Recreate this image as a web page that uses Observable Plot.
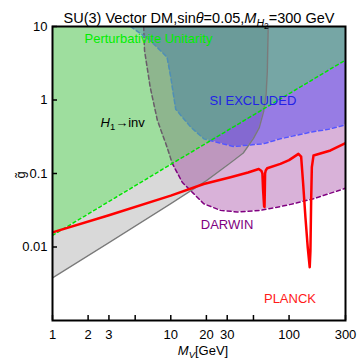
<!DOCTYPE html>
<html><head><meta charset="utf-8">
<script src="https://cdn.jsdelivr.net/npm/d3@7"></script>
<script src="https://cdn.jsdelivr.net/npm/@observablehq/plot@0.6"></script>
<style>body{margin:0;background:#fff} svg{display:block}</style>
</head><body><div id="chart"></div>
<script>
// ---- tick values / labels ----
const xTicks = [1, 2, 3, 5, 10, 20, 30, 50, 100, 300];
const xTickLabels = ["1", "2", "3", "5", "10", "20", "30", "50", "100", "300"];
const yTicks = [10, 1, 0.1, 0.01];
const yTickLabels = ["10", "1", "0.1", "0.01"];

// ---- perturbative unitarity boundary ----
const unitX = [1, 10.3, 300];
const unitY = [0.0144, 0.137, 3.5];

// ---- H1 -> invisible boundary ----
const h1X = [1, 3, 10, 20, 32, 41, 50, 56, 61, 64, 65.5, 66.6];
const h1Y = [0.0038, 0.0115, 0.039, 0.08, 0.14, 0.19, 0.3, 0.42, 0.7, 1.2, 2.5, 10];

// ---- DARWIN boundary ----
const darwinX = [5.9, 6.0, 6.7, 7.7, 9.3, 10.3, 12.5, 15.6, 19, 26.3, 36.5, 57, 96, 161, 300];
const darwinY = [10, 4.7, 1.49, 0.53, 0.228, 0.137, 0.076, 0.0532, 0.0388, 0.0315, 0.030, 0.0315, 0.037, 0.0454, 0.063];

// ---- SI excluded boundary ----
const siX = [4.57, 6.7, 9.3, 10, 10.3, 11, 14.7, 19, 34, 61, 84.5, 152, 224, 300];
const siY = [10, 6.45, 3.82, 2.04, 1.49, 0.75, 0.43, 0.297, 0.233, 0.254, 0.297, 0.365, 0.405, 0.46];

// ---- PLANCK relic line ----
const planckX = [1, 3, 10, 19, 32, 45, 55.4, 58.5, 59.5, 60.3, 61.5, 62.0, 62.4, 62.7, 63.5, 65.3, 84.5, 100, 120, 126.5, 131.6, 137.6, 143.9, 149.5, 151.6, 153.7, 155.8, 161, 224, 300];
const planckY = [0.0158, 0.027, 0.05, 0.072, 0.089, 0.103, 0.115, 0.108, 0.1, 0.06, 0.036, 0.035, 0.06, 0.1, 0.11, 0.118, 0.135, 0.152, 0.185, 0.17, 0.072, 0.025, 0.0098, 0.0053, 0.0089, 0.043, 0.122, 0.176, 0.206, 0.258];

// ---- texts ----
const titleText = "SU(3) Vector DM,sinθ=0.05,MH2=300 GeV";
const xLabelText = "MV[GeV]";
const yLabelText = "g\u0303";
const labelsStart = [
  {text: "Perturbativite Unitarity", x: 1.865, y: 6.87, color: "#00ee00"},
  {text: "H1→inv", x: 2.546, y: 0.494, color: "#000000"}
];
const labelsMiddle = [
  {text: "SI EXCLUDED", x: 49.5, y: 0.985, color: "#2222e6"},
  {text: "DARWIN", x: 29.9, y: 0.0202, color: "#800080"},
  {text: "PLANCK", x: 101.8, y: 0.0020, color: "#ff1a1a"}
];

const pts = (xs, ys) => xs.map((x, i) => ({x, y: ys[i]}));
const unit = pts(unitX, unitY);
const h1 = pts(h1X, h1Y);
const darwin = pts(darwinX, darwinY);
const si = pts(siX, siY);
const planck = pts(planckX, planckY);
const Y_TOP = 10;

const plot = Plot.plot({
  width: 357, height: 361,
  marginLeft: 52, marginRight: 12, marginTop: 26, marginBottom: 41,
  style: {fontFamily: "'Liberation Sans', Arial, sans-serif", fontSize: "13px", background: "white", color: "black"},
  x: {type: "log", domain: [1, 300]},
  y: {type: "log", domain: [0.001, 10]},
  marks: [
    Plot.areaY(h1, {x: "x", y1: "y", y2: () => Y_TOP, fill: "#808080", fillOpacity: 0.3, clip: true}),
    Plot.areaY(darwin, {x: "x", y1: "y", y2: () => Y_TOP, fill: "#800080", fillOpacity: 0.3, clip: true}),
    Plot.areaY(si, {x: "x", y1: "y", y2: () => Y_TOP, fill: "#0000ff", fillOpacity: 0.3, clip: true}),
    Plot.line(darwin, {x: "x", y: "y", stroke: "#800080", strokeWidth: 1.5, strokeDasharray: "4,3", clip: true}),
    Plot.line(si, {x: "x", y: "y", stroke: "#5555ff", strokeWidth: 1.5, strokeDasharray: "4,3", clip: true}),
    Plot.areaY(unit, {x: "x", y1: "y", y2: () => Y_TOP, fill: "rgb(70,230,70)", fillOpacity: 0.4, clip: true}),
    Plot.line(h1, {x: "x", y: "y", stroke: "#7a7a7a", strokeWidth: 1.4, clip: true}),
    Plot.line(unit, {x: "x", y: "y", stroke: "#00e600", strokeWidth: 1.5, strokeDasharray: "3,3", clip: true}),
    Plot.line(planck, {x: "x", y: "y", stroke: "#ff0000", strokeWidth: 2.5, clip: true}),
    Plot.tickX(xTicks, {x: d => d, insetTop: 289, stroke: "black", strokeWidth: 1.5}),
    Plot.tickY(yTicks, {y: d => d, insetRight: 288, stroke: "black", strokeWidth: 1.5}),
    Plot.axisX({ticks: xTicks, tickFormat: d => xTickLabels[xTicks.indexOf(d)], tickSize: 0, tickPadding: 9, fontSize: 13, label: null}),
    Plot.axisY({ticks: yTicks, tickFormat: d => yTickLabels[yTicks.indexOf(d)], tickSize: 0, tickPadding: 5, fontSize: 13, label: null}),
    Plot.frame({stroke: "black", strokeWidth: 2}),
    Plot.text(labelsStart, {x: "x", y: "y", text: "text", fill: "color", textAnchor: "start", fontSize: 13}),
    Plot.text(labelsMiddle, {x: "x", y: "y", text: "text", fill: "color", textAnchor: "middle", fontSize: 13}),
    Plot.text([titleText], {frameAnchor: "top", dy: -14, fontSize: 14.5}),
    Plot.text([xLabelText], {frameAnchor: "bottom", dy: 34, dx: 4, fontSize: 13}),
    Plot.text([yLabelText], {frameAnchor: "left", dx: -32, dy: 5, rotate: -90, fontSize: 13})
  ]
});

// rich text: [text, italic, level]
const rich = {
  [titleText]: {base: 14.5, parts: [["SU(3) Vector DM,sin", 0, 0], ["θ", 1, 0], ["=0.05,", 0, 0], ["M", 1, 0], ["H", 1, 1], ["2", 0, 2], ["=300 GeV", 0, 0]]},
  [xLabelText]: {base: 13, parts: [["M", 1, 0], ["V", 1, 1], ["[GeV]", 0, 0]]},
  ["H1→inv"]: {base: 13, parts: [["H", 1, 0], ["1", 0, 1], ["→inv", 0, 0]]}
};
plot.querySelectorAll("text").forEach(el => {
  const r = rich[el.textContent];
  if (!r) return;
  const b = r.base;
  const shifts = [0, 0.27 * b, 0.46 * b];
  const sizes = [b, 0.73 * b, 0.58 * b];
  el.textContent = "";
  let cur = 0;
  for (const [t, it, lvl] of r.parts) {
    const ts = document.createElementNS("http://www.w3.org/2000/svg", "tspan");
    ts.textContent = t;
    if (it) ts.setAttribute("font-style", "italic");
    ts.setAttribute("font-size", sizes[lvl]);
    const dy = shifts[lvl] - cur;
    if (dy) ts.setAttribute("dy", dy);
    cur = shifts[lvl];
    el.appendChild(ts);
  }
});
document.getElementById("chart").appendChild(plot);
</script>
</body></html>
